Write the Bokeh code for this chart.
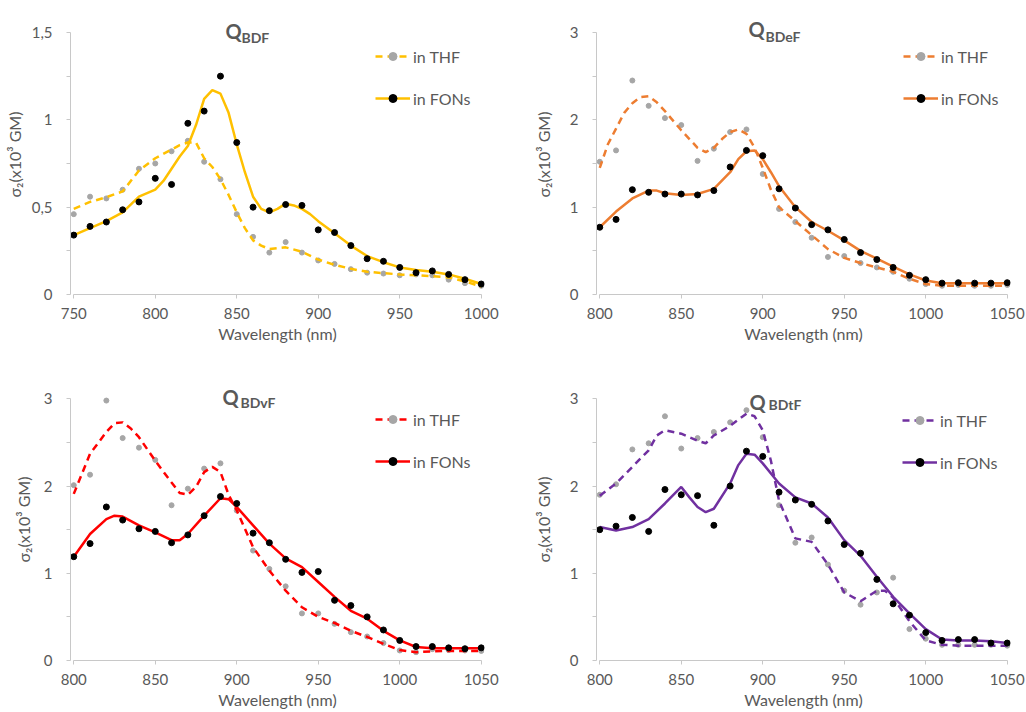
from bokeh.plotting import figure
from bokeh.models import FixedTicker, Label, Legend, LegendItem, Range1d
from bokeh.layouts import column, row
from bokeh.embed import file_html
from bokeh.resources import INLINE

# ---------------- data ----------------
titles = [("Q", "BDF"), ("Q", "BDeF"), ("Q", "BDvF"), ("Q", "BDtF")]
series_names = ["in THF", "in FONs"]
x_label = "Wavelength (nm)"
y_label = "σ₂(x10³ GM)"

x_ticks_a = [750, 800, 850, 900, 950, 1000]
x_ticks_b = [800, 850, 900, 950, 1000, 1050]
y_ticks_a = [0, 0.5, 1, 1.5]
y_minor_a = [0.25, 0.75, 1.25]
y_labels_a = ["0", "0,5", "1", "1,5"]
y_ticks_b = [0, 1, 2, 3]
y_minor_b = [0.5, 1.5, 2.5]
y_labels_b = ["0", "1", "2", "3"]

wl_a = [750, 760, 770, 780, 790, 800, 810, 820, 830, 840, 850, 860, 870, 880, 890,
        900, 910, 920, 930, 940, 950, 960, 970, 980, 990, 1000]
wl_b = [800, 810, 820, 830, 840, 850, 860, 870, 880, 890, 900, 910, 920, 930, 940,
        950, 960, 970, 980, 990, 1000, 1010, 1020, 1030, 1040, 1050]

# Q_BDF
thf1 = [0.46, 0.56, 0.55, 0.60, 0.72, 0.75, 0.82, 0.88, 0.76, 0.66, 0.46, 0.33, 0.24,
        0.30, 0.24, 0.195, 0.175, 0.145, 0.125, 0.12, 0.11, 0.115, 0.11, 0.085, 0.065, 0.05]
fon1 = [0.34, 0.39, 0.415, 0.485, 0.53, 0.665, 0.63, 0.98, 1.05, 1.25, 0.87, 0.50, 0.48,
        0.515, 0.51, 0.37, 0.355, 0.28, 0.205, 0.19, 0.155, 0.125, 0.135, 0.115, 0.085, 0.06]
thf1_fit_x = [750, 760, 770, 780, 790, 800, 810, 815, 820, 825, 830, 835, 840, 845, 850,
              855, 860, 865, 870, 875, 880, 890, 900, 910, 920, 930, 940, 950, 960, 970,
              980, 990, 1000]
thf1_fit_y = [0.49, 0.53, 0.557, 0.59, 0.71, 0.78, 0.83, 0.855, 0.87, 0.87, 0.78, 0.73,
              0.66, 0.57, 0.47, 0.38, 0.31, 0.28, 0.26, 0.265, 0.27, 0.245, 0.20, 0.17,
              0.147, 0.13, 0.122, 0.115, 0.11, 0.105, 0.098, 0.075, 0.045]
fon1_fit_x = [750, 760, 770, 780, 790, 800, 805, 810, 815, 820, 825, 830, 835, 840, 845,
              850, 855, 860, 865, 870, 875, 880, 885, 890, 895, 900, 910, 920, 930, 940,
              950, 960, 970, 980, 990, 1000]
fon1_fit_y = [0.34, 0.38, 0.42, 0.47, 0.56, 0.60, 0.65, 0.72, 0.79, 0.85, 0.97, 1.12,
              1.17, 1.15, 1.04, 0.86, 0.70, 0.56, 0.49, 0.47, 0.49, 0.52, 0.51, 0.49,
              0.46, 0.42, 0.35, 0.28, 0.22, 0.185, 0.155, 0.14, 0.13, 0.115, 0.09, 0.06]

# Q_BDeF
thf2 = [1.52, 1.65, 2.45, 2.16, 2.02, 1.94, 1.53, 1.67, 1.86, 1.89, 1.38, 0.98, 0.83,
        0.65, 0.43, 0.44, 0.36, 0.31, 0.26, 0.18, 0.12, 0.10, 0.11, 0.10, 0.10, 0.11]
fon2 = [0.77, 0.86, 1.20, 1.17, 1.15, 1.15, 1.14, 1.19, 1.46, 1.65, 1.59, 1.21, 0.99,
        0.80, 0.74, 0.63, 0.48, 0.40, 0.31, 0.22, 0.17, 0.13, 0.135, 0.13, 0.13, 0.135]
thf2_fit_x = [800, 805, 810, 815, 820, 825, 830, 835, 840, 850, 860, 865, 870, 875, 880,
              885, 890, 895, 900, 905, 910, 920, 930, 940, 950, 960, 970, 980, 990, 1000,
              1010, 1020, 1030, 1040, 1050]
thf2_fit_y = [1.45, 1.72, 1.90, 2.08, 2.19, 2.26, 2.27, 2.20, 2.10, 1.88, 1.68, 1.63,
              1.68, 1.78, 1.86, 1.89, 1.84, 1.68, 1.45, 1.20, 1.00, 0.84, 0.68, 0.52,
              0.42, 0.36, 0.31, 0.26, 0.18, 0.12, 0.10, 0.10, 0.10, 0.10, 0.10]
fon2_fit_x = [800, 810, 820, 830, 835, 840, 850, 860, 870, 880, 885, 890, 895, 900, 905,
              910, 920, 930, 940, 950, 960, 970, 980, 990, 1000, 1010, 1020, 1030, 1040, 1050]
fon2_fit_y = [0.77, 0.95, 1.10, 1.19, 1.19, 1.16, 1.14, 1.15, 1.21, 1.40, 1.55, 1.64,
              1.65, 1.55, 1.40, 1.24, 1.00, 0.83, 0.73, 0.62, 0.50, 0.41, 0.32, 0.23,
              0.16, 0.13, 0.13, 0.13, 0.13, 0.13]

# Q_BDvF
thf3 = [2.01, 2.13, 2.98, 2.55, 2.44, 2.30, 1.78, 1.97, 2.20, 2.26, 1.72, 1.26, 1.05,
        0.85, 0.54, 0.54, 0.42, 0.325, 0.275, 0.20, 0.115, 0.095, 0.13, 0.12, 0.115, 0.11]
fon3 = [1.19, 1.34, 1.76, 1.61, 1.51, 1.48, 1.35, 1.44, 1.66, 1.88, 1.80, 1.46, 1.35,
        1.16, 1.01, 1.02, 0.69, 0.63, 0.50, 0.35, 0.23, 0.16, 0.16, 0.145, 0.135, 0.145]
thf3_fit_x = [800, 810, 820, 825, 830, 835, 840, 850, 860, 865, 870, 875, 880, 885, 890,
              895, 900, 910, 920, 930, 940, 950, 960, 970, 980, 990, 1000, 1010, 1020,
              1030, 1040, 1050]
thf3_fit_y = [1.91, 2.37, 2.62, 2.72, 2.73, 2.66, 2.56, 2.29, 2.04, 1.92, 1.90, 1.99,
              2.16, 2.22, 2.16, 1.90, 1.72, 1.30, 1.03, 0.80, 0.61, 0.50, 0.43, 0.34,
              0.27, 0.19, 0.12, 0.095, 0.105, 0.11, 0.11, 0.11]
fon3_fit_x = [800, 810, 820, 825, 830, 840, 850, 860, 865, 870, 880, 890, 895, 900, 910,
              920, 930, 940, 950, 960, 970, 980, 990, 1000, 1010, 1020, 1030, 1040, 1050]
fon3_fit_y = [1.19, 1.45, 1.62, 1.66, 1.65, 1.55, 1.47, 1.38, 1.38, 1.45, 1.66, 1.86,
              1.85, 1.76, 1.55, 1.34, 1.17, 1.07, 0.90, 0.73, 0.57, 0.48, 0.34, 0.23,
              0.155, 0.14, 0.14, 0.14, 0.14]

# Q_BDtF
thf4 = [1.90, 2.02, 2.42, 2.49, 2.80, 2.43, 2.55, 2.62, 2.73, 2.87, 2.56, 1.78, 1.35,
        1.41, 1.10, 0.80, 0.64, 0.78, 0.95, 0.36, 0.25, 0.18, 0.18, 0.18, 0.18, 0.17]
fon4 = [1.50, 1.54, 1.64, 1.48, 1.96, 1.90, 1.89, 1.55, 2.00, 2.40, 2.34, 1.93, 1.84,
        1.79, 1.60, 1.33, 1.23, 0.93, 0.65, 0.52, 0.32, 0.23, 0.24, 0.24, 0.20, 0.20]
thf4_fit_x = [800, 810, 820, 830, 835, 840, 850, 860, 865, 870, 880, 890, 895, 900, 905,
              910, 920, 930, 940, 950, 960, 970, 975, 980, 990, 1000, 1010, 1020, 1030,
              1040, 1050]
thf4_fit_y = [1.89, 2.03, 2.22, 2.41, 2.58, 2.64, 2.60, 2.52, 2.49, 2.58, 2.69, 2.83,
              2.80, 2.64, 2.29, 1.83, 1.40, 1.36, 1.10, 0.78, 0.68, 0.80, 0.80, 0.72,
              0.45, 0.23, 0.18, 0.17, 0.17, 0.17, 0.17]
fon4_fit_x = [800, 810, 820, 830, 840, 850, 855, 860, 865, 870, 880, 885, 890, 895, 900,
              910, 920, 930, 940, 950, 960, 970, 980, 990, 1000, 1010, 1020, 1030, 1040, 1050]
fon4_fit_y = [1.53, 1.49, 1.53, 1.62, 1.80, 1.99, 1.87, 1.76, 1.70, 1.74, 2.03, 2.24,
              2.37, 2.36, 2.26, 2.03, 1.87, 1.80, 1.64, 1.38, 1.20, 0.96, 0.73, 0.54,
              0.36, 0.24, 0.23, 0.23, 0.22, 0.20]

colors = ["#FFC000", "#ED7D31", "#FF0000", "#7030A0"]

# ---------------- styling ----------------
FONT = "Lato"
TXT = "#595959"
AXC = "#C8C8C8"
GRAY = "#A6A6A6"


def make_panel(title, color, wl, thf, fon, tfx, tfy, ffx, ffy,
               x_ticks, y_ticks, y_minor, y_labels, y_top,
               borders, title_pos, legend_loc, ylab_standoff):
    left, right, top, bottom = borders
    p = figure(width=513, height=356, output_backend="svg", toolbar_location=None,
               x_range=Range1d(x_ticks[0] - 2, x_ticks[-1] + 2),
               y_range=Range1d(y_ticks[0], y_top),
               min_border_left=left, min_border_right=right,
               min_border_top=top, min_border_bottom=bottom)
    p.outline_line_color = None
    p.grid.visible = False
    p.background_fill_color = "white"
    p.border_fill_color = "white"

    for ax in (p.xaxis[0], p.yaxis[0]):
        ax.axis_line_color = AXC
        ax.major_tick_line_color = AXC
        ax.minor_tick_line_color = AXC
        ax.major_tick_in = 0
        ax.major_tick_out = 4
        ax.minor_tick_in = 0
        ax.minor_tick_out = 4
        ax.major_label_text_font = FONT
        ax.major_label_text_font_size = "15px"
        ax.major_label_text_color = TXT
        ax.axis_label_text_font = FONT
        ax.axis_label_text_font_style = "normal"
        ax.axis_label_text_color = TXT
        ax.axis_label_text_font_size = "16px"

    xa = p.xaxis[0]
    xa.ticker = FixedTicker(ticks=x_ticks, minor_ticks=[])
    xa.bounds = (x_ticks[0], x_ticks[-1])
    xa.axis_label = x_label
    xa.major_label_standoff = 9
    xa.axis_label_standoff = 2

    ya = p.yaxis[0]
    ya.ticker = FixedTicker(ticks=y_ticks, minor_ticks=y_minor)
    ya.bounds = (y_ticks[0], y_ticks[-1])
    ya.major_label_overrides = {t: l for t, l in zip(y_ticks, y_labels)}
    ya.axis_label = y_label
    ya.major_label_standoff = 14
    ya.axis_label_standoff = ylab_standoff

    s_thf = p.scatter(wl, thf, size=5, color=GRAY)
    l_thf = p.line(tfx, tfy, line_color=color, line_width=2.5, line_dash="7 5")
    l_fon = p.line(ffx, ffy, line_color=color, line_width=2.5)
    s_fon = p.scatter(wl, fon, size=6, color="black")

    legend = Legend(items=[LegendItem(label=series_names[0], renderers=[l_thf, s_thf]),
                           LegendItem(label=series_names[1], renderers=[l_fon, s_fon])],
                    location=legend_loc, orientation="vertical",
                    border_line_color=None, background_fill_alpha=0,
                    padding=0, margin=0, spacing=22,
                    glyph_width=35, glyph_height=20, label_height=20,
                    label_standoff=3, label_text_font=FONT,
                    label_text_font_size="16px", label_text_color=TXT)
    p.add_layout(legend)

    qx, qy, sx, sy = title_pos
    p.add_layout(Label(x=qx, y=qy, x_units="screen", y_units="screen", text=title[0],
                       text_font=FONT, text_font_size="20px", text_font_style="bold",
                       text_color=TXT, text_align="left", text_baseline="alphabetic"))
    p.add_layout(Label(x=sx, y=sy, x_units="screen", y_units="screen", text=title[1],
                       text_font=FONT, text_font_size="14px", text_font_style="bold",
                       text_color=TXT, text_align="left", text_baseline="alphabetic"))
    return p


# frames reach up past the top tick so that the panel titles sit inside them
p1 = make_panel(titles[0], colors[0], wl_a, thf1, fon1, thf1_fit_x, thf1_fit_y,
                fon1_fit_x, fon1_fit_y, x_ticks_a, y_ticks_a, y_minor_a, y_labels_a, 1.603,
                (70, 29, 14, 62), (155, 264, 171, 257), (305, 186), 5)
p2 = make_panel(titles[1], colors[1], wl_b, thf2, fon2, thf2_fit_x, thf2_fit_y,
                fon2_fit_x, fon2_fit_y, x_ticks_b, y_ticks_b, y_minor_b, y_labels_b, 3.206,
                (83, 16, 14, 62), (152, 266, 169, 258), (307, 186), 14)
p3 = make_panel(titles[2], colors[2], wl_b, thf3, fon3, thf3_fit_x, thf3_fit_y,
                fon3_fit_x, fon3_fit_y, x_ticks_b, y_ticks_b, y_minor_b, y_labels_b, 3.233,
                (70, 29, 22, 52), (152, 264, 170, 258), (305, 189), 8)
p4 = make_panel(titles[3], colors[3], wl_b, thf4, fon4, thf4_fit_x, thf4_fit_y,
                fon4_fit_x, fon4_fit_y, x_ticks_b, y_ticks_b, y_minor_b, y_labels_b, 3.233,
                (83, 16, 22, 52), (153, 259, 172, 256), (306, 188), 14)

layout = column(row(p1, p2), row(p3, p4))
open("out.html", "w").write(file_html(layout, INLINE))
